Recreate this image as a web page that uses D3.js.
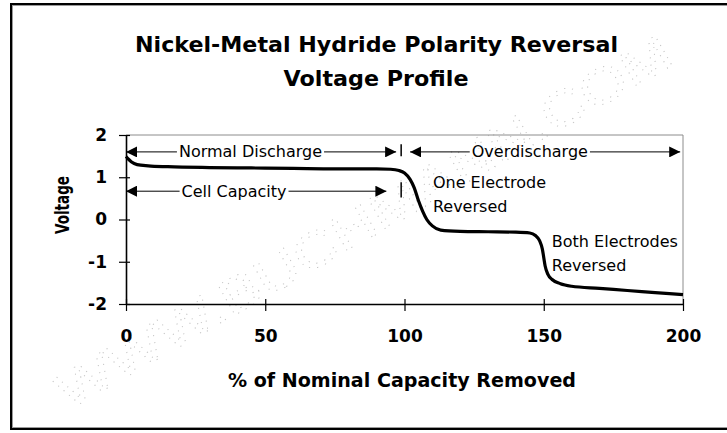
<!DOCTYPE html>
<html>
<head>
<meta charset="utf-8">
<script src="https://cdn.jsdelivr.net/npm/d3@7"></script>
<style>
  html, body { margin: 0; padding: 0; background: #fff; }
  svg { display: block; }
</style>
</head>
<body>
<svg id="chart" width="727" height="433"></svg>
<script>
// ---------- data ----------
const titleLines = ["Nickel-Metal Hydride Polarity Reversal", "Voltage Profile"];
const xLabel = "% of Nominal Capacity Removed";
const yLabel = "Voltage";
const xTicks = [0, 50, 100, 150, 200];
const yTicks = [-2, -1, 0, 1, 2];

// % of nominal capacity removed
const capacity = [0, 1, 2, 4, 8, 15, 30, 45, 60, 75, 90, 95, 98, 100, 102, 103.5, 105, 106.5, 108, 110, 113, 120, 130, 140, 145, 147, 148.5, 149.5, 150, 150.5, 151.5, 153, 156, 160, 170, 180, 190, 200];
// cell voltage (V)
const voltage  = [1.49, 1.42, 1.36, 1.30, 1.27, 1.25, 1.23, 1.22, 1.21, 1.20, 1.20, 1.19, 1.16, 1.10, 0.95, 0.75, 0.45, 0.20, 0.00, -0.15, -0.25, -0.28, -0.29, -0.30, -0.32, -0.38, -0.50, -0.70, -0.90, -1.10, -1.30, -1.42, -1.52, -1.58, -1.63, -1.68, -1.73, -1.78];

// range annotations
const rangeLabels = ["Normal Discharge", "Overdischarge", "Cell Capacity"];
const rangeFrom   = [0, 102, 0];
const rangeTo     = [97, 199, 93.5];
const rangeLevel  = [1.6, 1.6, 0.67];
const rangeTextAt = [44.7, 145, 38.8];
// separator bars at 100 %
const barAt = [98.8, 98.8];
const barTop = [1.78, 0.88];
const barBottom = [1.5, 0.52];

// text notes
const noteLines = [["One Electrode", "Reversed"], ["Both Electrodes", "Reversed"]];
const noteX = [110.2, 152.9];
const noteY = [0.75, -0.64];

const watermark = "WWW.BUCHMANN.COM";

// ---------- drawing ----------
const svg = d3.select("#chart");
const FONT = "'DejaVu Sans', 'Liberation Sans', Arial, sans-serif";

// outer frame
svg.append("rect").attr("x", 11).attr("y", 4).attr("width", 740).attr("height", 425)
  .attr("fill", "none").attr("stroke", "#000").attr("stroke-width", 2);
svg.append("rect").attr("x", 12.5).attr("y", 5.5).attr("width", 740).attr("height", 422)
  .attr("fill", "none").attr("stroke", "#9a9a9a").attr("stroke-width", 1);

const x = d3.scaleLinear().domain([0, 200]).range([126, 683]);
const y = d3.scaleLinear().domain([-2, 2]).range([304, 135]);

// watermark (dotted outline text)
svg.append("text")
  .attr("transform", "translate(364,222) rotate(-29.7)")
  .attr("text-anchor", "middle")
  .attr("dominant-baseline", "central")
  .attr("font-family", "'Liberation Sans', Arial, sans-serif")
  .attr("font-size", 50)
  .attr("textLength", 700)
  .attr("lengthAdjust", "spacingAndGlyphs")
  .attr("fill", "none")
  .attr("stroke", "#c4c4c4")
  .attr("stroke-width", 0.9)
  .attr("stroke-dasharray", "1 6")
  .text(watermark);

// title
const tl = svg.append("g").attr("font-family", FONT).attr("font-weight", "bold")
  .attr("font-size", 22).attr("fill", "#000").attr("text-anchor", "middle");
tl.append("text").attr("x", 376.5).attr("y", 52).attr("textLength", 483)
  .attr("lengthAdjust", "spacingAndGlyphs").text(titleLines[0]);
tl.append("text").attr("x", 376).attr("y", 86).attr("textLength", 185)
  .attr("lengthAdjust", "spacingAndGlyphs").text(titleLines[1]);

// plot frame (top/right grey)
svg.append("path")
  .attr("d", `M${x(0)},${y(2)}H${x(200)}V${y(-2)}`)
  .attr("fill", "none").attr("stroke", "#8c8c8c").attr("stroke-width", 1);

// axes
const fmt = d => String(d);
const yAxis = d3.axisLeft(y).tickValues(yTicks).tickSize(7).tickSizeOuter(0).tickPadding(12).tickFormat(fmt);
const gy = svg.append("g").attr("transform", `translate(${x(0)},0)`).call(yAxis);
gy.selectAll(".tick line").attr("x1", 4).attr("x2", -7).attr("stroke-width", 1.2);
gy.select(".domain").attr("stroke-width", 1.6);
gy.selectAll("text").attr("font-family", FONT).attr("font-weight", "bold").attr("font-size", 17).attr("fill", "#000");

const xAxis = d3.axisBottom(x).tickValues(xTicks).tickSize(7).tickSizeOuter(0).tickPadding(19).tickFormat(fmt);
const gx = svg.append("g").attr("transform", `translate(0,${y(-2)})`).call(xAxis);
gx.selectAll(".tick line").attr("y1", -5).attr("y2", 7).attr("stroke-width", 1.2);
gx.select(".domain").attr("stroke-width", 1.6);
gx.selectAll("text").attr("font-family", FONT).attr("font-weight", "bold").attr("font-size", 17).attr("fill", "#000");

// axis titles
svg.append("text").attr("x", 402).attr("y", 387).attr("text-anchor", "middle")
  .attr("font-family", FONT).attr("font-weight", "bold").attr("font-size", 19)
  .attr("textLength", 348).attr("lengthAdjust", "spacingAndGlyphs").text(xLabel);
svg.append("text").attr("transform", "translate(69,205) rotate(-90)").attr("text-anchor", "middle")
  .attr("font-family", FONT).attr("font-weight", "bold").attr("font-size", 20)
  .attr("textLength", 58).attr("lengthAdjust", "spacingAndGlyphs")
  .text(yLabel);

// curve
const pts = capacity.map((c, i) => [c, voltage[i]]);
svg.append("path")
  .datum(pts)
  .attr("d", d3.line().x(d => x(d[0])).y(d => y(d[1])).curve(d3.curveMonotoneX))
  .attr("fill", "none").attr("stroke", "#000").attr("stroke-width", 3.2)
  .attr("stroke-linejoin", "round");

// arrow marker
const defs = svg.append("defs");
defs.append("marker").attr("id", "arr").attr("viewBox", "0 0 10 10")
  .attr("refX", 10).attr("refY", 5).attr("markerWidth", 11).attr("markerHeight", 11)
  .attr("markerUnits", "userSpaceOnUse").attr("orient", "auto-start-reverse")
  .append("path").attr("d", "M0,0L10,5L0,10z").attr("fill", "#000");

// range annotations
const ann = svg.append("g");
rangeLabels.forEach((lab, i) => {
  const yy = y(rangeLevel[i]);
  ann.append("line").attr("x1", x(rangeFrom[i])).attr("x2", x(rangeTo[i]))
    .attr("y1", yy).attr("y2", yy).attr("stroke", "#000").attr("stroke-width", 1)
    .attr("marker-start", "url(#arr)").attr("marker-end", "url(#arr)");
  const bg = ann.append("rect").attr("fill", "#fff");
  const t = ann.append("text").attr("x", x(rangeTextAt[i]))
    .attr("y", yy + 5.5).attr("text-anchor", "middle")
    .attr("font-family", FONT).attr("font-size", 16).attr("fill", "#000")
    .text(lab);
  const bb = t.node().getBBox();
  bg.attr("x", bb.x - 2).attr("y", yy - 3).attr("width", bb.width + 4).attr("height", 6);
});
barAt.forEach((b, i) => {
  ann.append("line").attr("x1", x(b)).attr("x2", x(b))
    .attr("y1", y(barTop[i])).attr("y2", y(barBottom[i]))
    .attr("stroke", "#000").attr("stroke-width", 1.5);
});

// notes
noteLines.forEach((lines, i) => {
  const t = svg.append("text").attr("font-family", FONT).attr("font-size", 16).attr("fill", "#000");
  lines.forEach((ln, j) => {
    t.append("tspan").attr("x", x(noteX[i])).attr("y", y(noteY[i]) + j * 24).text(ln);
  });
});
</script>
</body>
</html>
